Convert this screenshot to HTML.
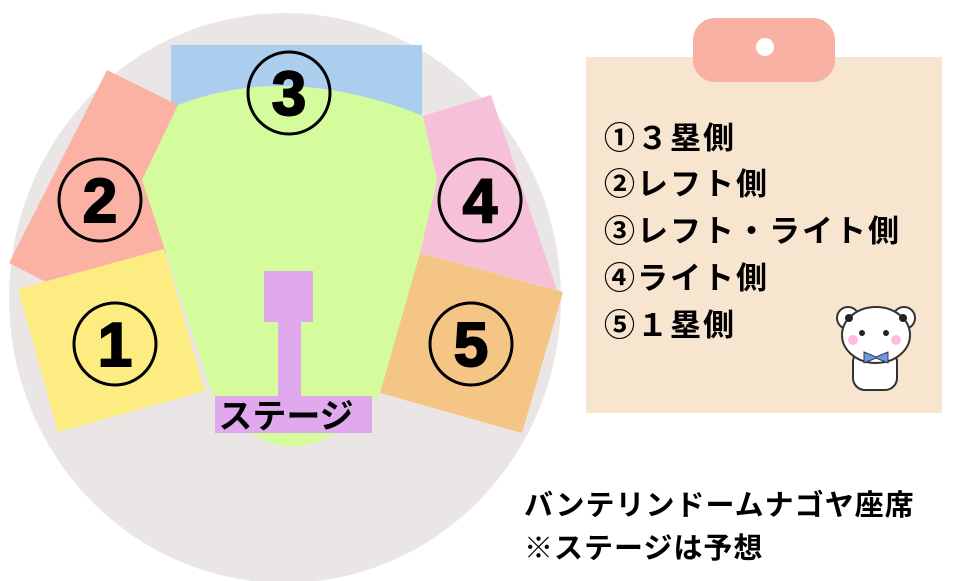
<!DOCTYPE html>
<html><head><meta charset="utf-8"><style>
body{margin:0;background:#fff;width:954px;height:581px;overflow:hidden;font-family:"Liberation Sans","Noto Sans CJK JP",sans-serif}
</style></head><body>
<svg width="954" height="581" xmlns="http://www.w3.org/2000/svg" style="position:absolute;left:0;top:0">
<ellipse cx="285" cy="298" rx="276" ry="285" fill="#ebe6e6"/>
<rect x="171" y="45" width="251" height="72" fill="#abcdee"/>
<polygon points="107,70 178,105 166,253 46,282 9,263" fill="#fbb2a5"/>
<polygon points="18,289 164,249 205,391 58,432" fill="#fdec82"/>
<polygon points="423,116 491,95 557,290 420,253" fill="#f6c1d8"/>
<polygon points="420,253 563,292 522,433 380,393" fill="#f4c585"/>
<path d="M178,105 Q289,62 423,116 L437,180 L420,253 L380,393 Q289,500 212,393 L166,253 L142,180 Z" fill="#d5fc9c"/>
<rect x="264" y="271" width="49" height="51" fill="#e0a9ee"/>
<rect x="278" y="320" width="23" height="78" fill="#e0a9ee"/>
<rect x="215" y="396" width="157" height="37" fill="#e0a9ee"/>
<text x="286" y="428" font-size="34" font-weight="bold" text-anchor="middle" font-family="Liberation Sans, Noto Sans CJK JP, sans-serif">ステージ</text>
<g fill="none" stroke="#000" stroke-width="3">
<circle cx="289" cy="93" r="41"/><circle cx="100" cy="200" r="41"/><circle cx="480" cy="200" r="41"/><circle cx="115" cy="344" r="41"/><circle cx="471" cy="344" r="41"/>
</g>
<g font-size="62" font-weight="bold" text-anchor="middle" font-family="Liberation Sans, sans-serif" stroke="#000" stroke-width="2">
<text x="289" y="115">3</text><text x="100" y="222">2</text><text x="480" y="222">4</text><text x="115" y="366">1</text><text x="471" y="366">5</text>
</g>
<rect x="586" y="57" width="356" height="356" fill="#f8e5d0"/>
<rect x="693" y="18" width="142" height="64" rx="22" fill="#f9b1a4"/>
<circle cx="765" cy="47" r="9" fill="#fff"/>
<g font-size="31" font-weight="bold" letter-spacing="2" font-family="Liberation Sans, Noto Sans CJK JP, sans-serif">
<text x="604" y="149">①３塁側</text>
<text x="604" y="195">②レフト側</text>
<text x="604" y="242">③レフト・ライト側</text>
<text x="604" y="289">④ライト側</text>
<text x="604" y="336">⑤１塁側</text>
</g>
<g stroke="#333" stroke-width="2" fill="#fff">
<circle cx="848" cy="318" r="11"/><circle cx="904" cy="318" r="11"/>
<rect x="853" y="350" width="44" height="40" rx="12"/>
<ellipse cx="876" cy="335" rx="34" ry="28"/>
</g>
<circle cx="849" cy="318" r="4" fill="#222"/><circle cx="903" cy="318" r="4" fill="#222"/>
<circle cx="862" cy="333" r="3" fill="#222"/><circle cx="886" cy="333" r="3" fill="#222"/>
<circle cx="853" cy="340" r="5" fill="#fbd"/><circle cx="896" cy="340" r="5" fill="#fbd"/>
<polygon points="864,352 876,357 888,352 888,363 876,358 864,363" fill="#6a9be0" stroke="#335" stroke-width="1"/>
<g font-size="29" font-weight="bold" letter-spacing="1" font-family="Liberation Sans, Noto Sans CJK JP, sans-serif">
<text x="524" y="515">バンテリンドームナゴヤ座席</text>
<text x="524" y="558">※ステージは予想</text>
</g>
</svg>
</body></html>
